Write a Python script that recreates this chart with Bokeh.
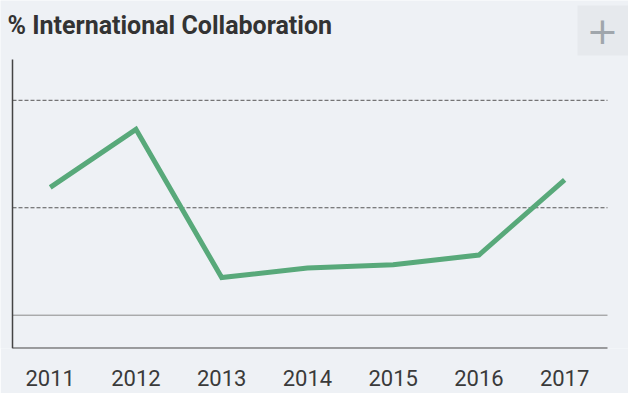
from bokeh.plotting import figure
from bokeh.models import Label, FixedTicker, Range1d, BoxAnnotation
from bokeh.embed import file_html
from bokeh.resources import INLINE

years = [2011, 2012, 2013, 2014, 2015, 2016, 2017]
collab_pct = [31.9, 37.3, 23.5, 24.4, 24.7, 25.6, 32.6]
grid_levels = [20, 30, 40]
title_text = "% International Collaboration"

# axis extents (data units)
x_axis_start, x_axis_end = 2010.56, 2017.5
y_axis_start, y_axis_end = 16.9, 43.8
x_view_start, x_view_end = 2010.42, 2017.745
y_view_end = 49.29

BG = "#eef1f5"
p = figure(width=628, height=393, output_backend="svg", toolbar_location=None,
           x_range=Range1d(x_view_start, x_view_end), y_range=Range1d(y_axis_start, y_view_end),
           min_border_left=0, min_border_right=0, min_border_top=0, min_border_bottom=45)
p.background_fill_color = BG
p.border_fill_color = BG
p.outline_line_color = None
p.grid.visible = False
p.yaxis.visible = False

xa = p.xaxis[0]
xa.ticker = FixedTicker(ticks=years)
xa.major_tick_line_color = None
xa.minor_tick_line_color = None
xa.major_tick_out = 0
xa.major_label_standoff = 21
xa.major_label_text_font = "Roboto"
xa.major_label_text_font_size = "22px"
xa.major_label_text_color = "#3a3a3a"
xa.axis_line_color = None

# gridlines
for i, g in enumerate(grid_levels):
    if i == 0:
        p.segment(x0=[x_axis_start], y0=[g], x1=[x_axis_end], y1=[g],
                  line_color="#8a8a8a", line_width=1)
    else:
        p.segment(x0=[x_axis_start], y0=[g], x1=[x_axis_end], y1=[g],
                  line_color="#555555", line_width=1, line_dash="4 2")

# axis lines
p.segment(x0=[x_axis_start], y0=[y_axis_start], x1=[x_axis_start], y1=[y_axis_end],
          line_color="#444444", line_width=1.5)
p.segment(x0=[x_axis_start], y0=[y_axis_start], x1=[x_axis_end], y1=[y_axis_start],
          line_color="#444444", line_width=2)

p.line(years, collab_pct, line_color="#58a97a", line_width=5, line_join="miter")

p.add_layout(Label(x=7, y=323, x_units="screen", y_units="screen", text=title_text,
                   text_font="Roboto", text_font_style="bold", text_font_size="25px",
                   text_color="#333333", text_baseline="alphabetic"))

# "+" button in the top-right corner
p.add_layout(BoxAnnotation(left=2017.15, right=x_view_end, top=48.83, bottom=44.17,
                           fill_color="#e6e9ed", fill_alpha=1, line_color=None))
p.add_layout(Label(x=602, y=318, x_units="screen", y_units="screen", text="+",
                   text_font="DejaVu Sans", text_font_size="38px", text_color="#a0a6ac",
                   text_align="center", text_baseline="middle"))

open("out.html", "w").write(file_html(p, INLINE))
